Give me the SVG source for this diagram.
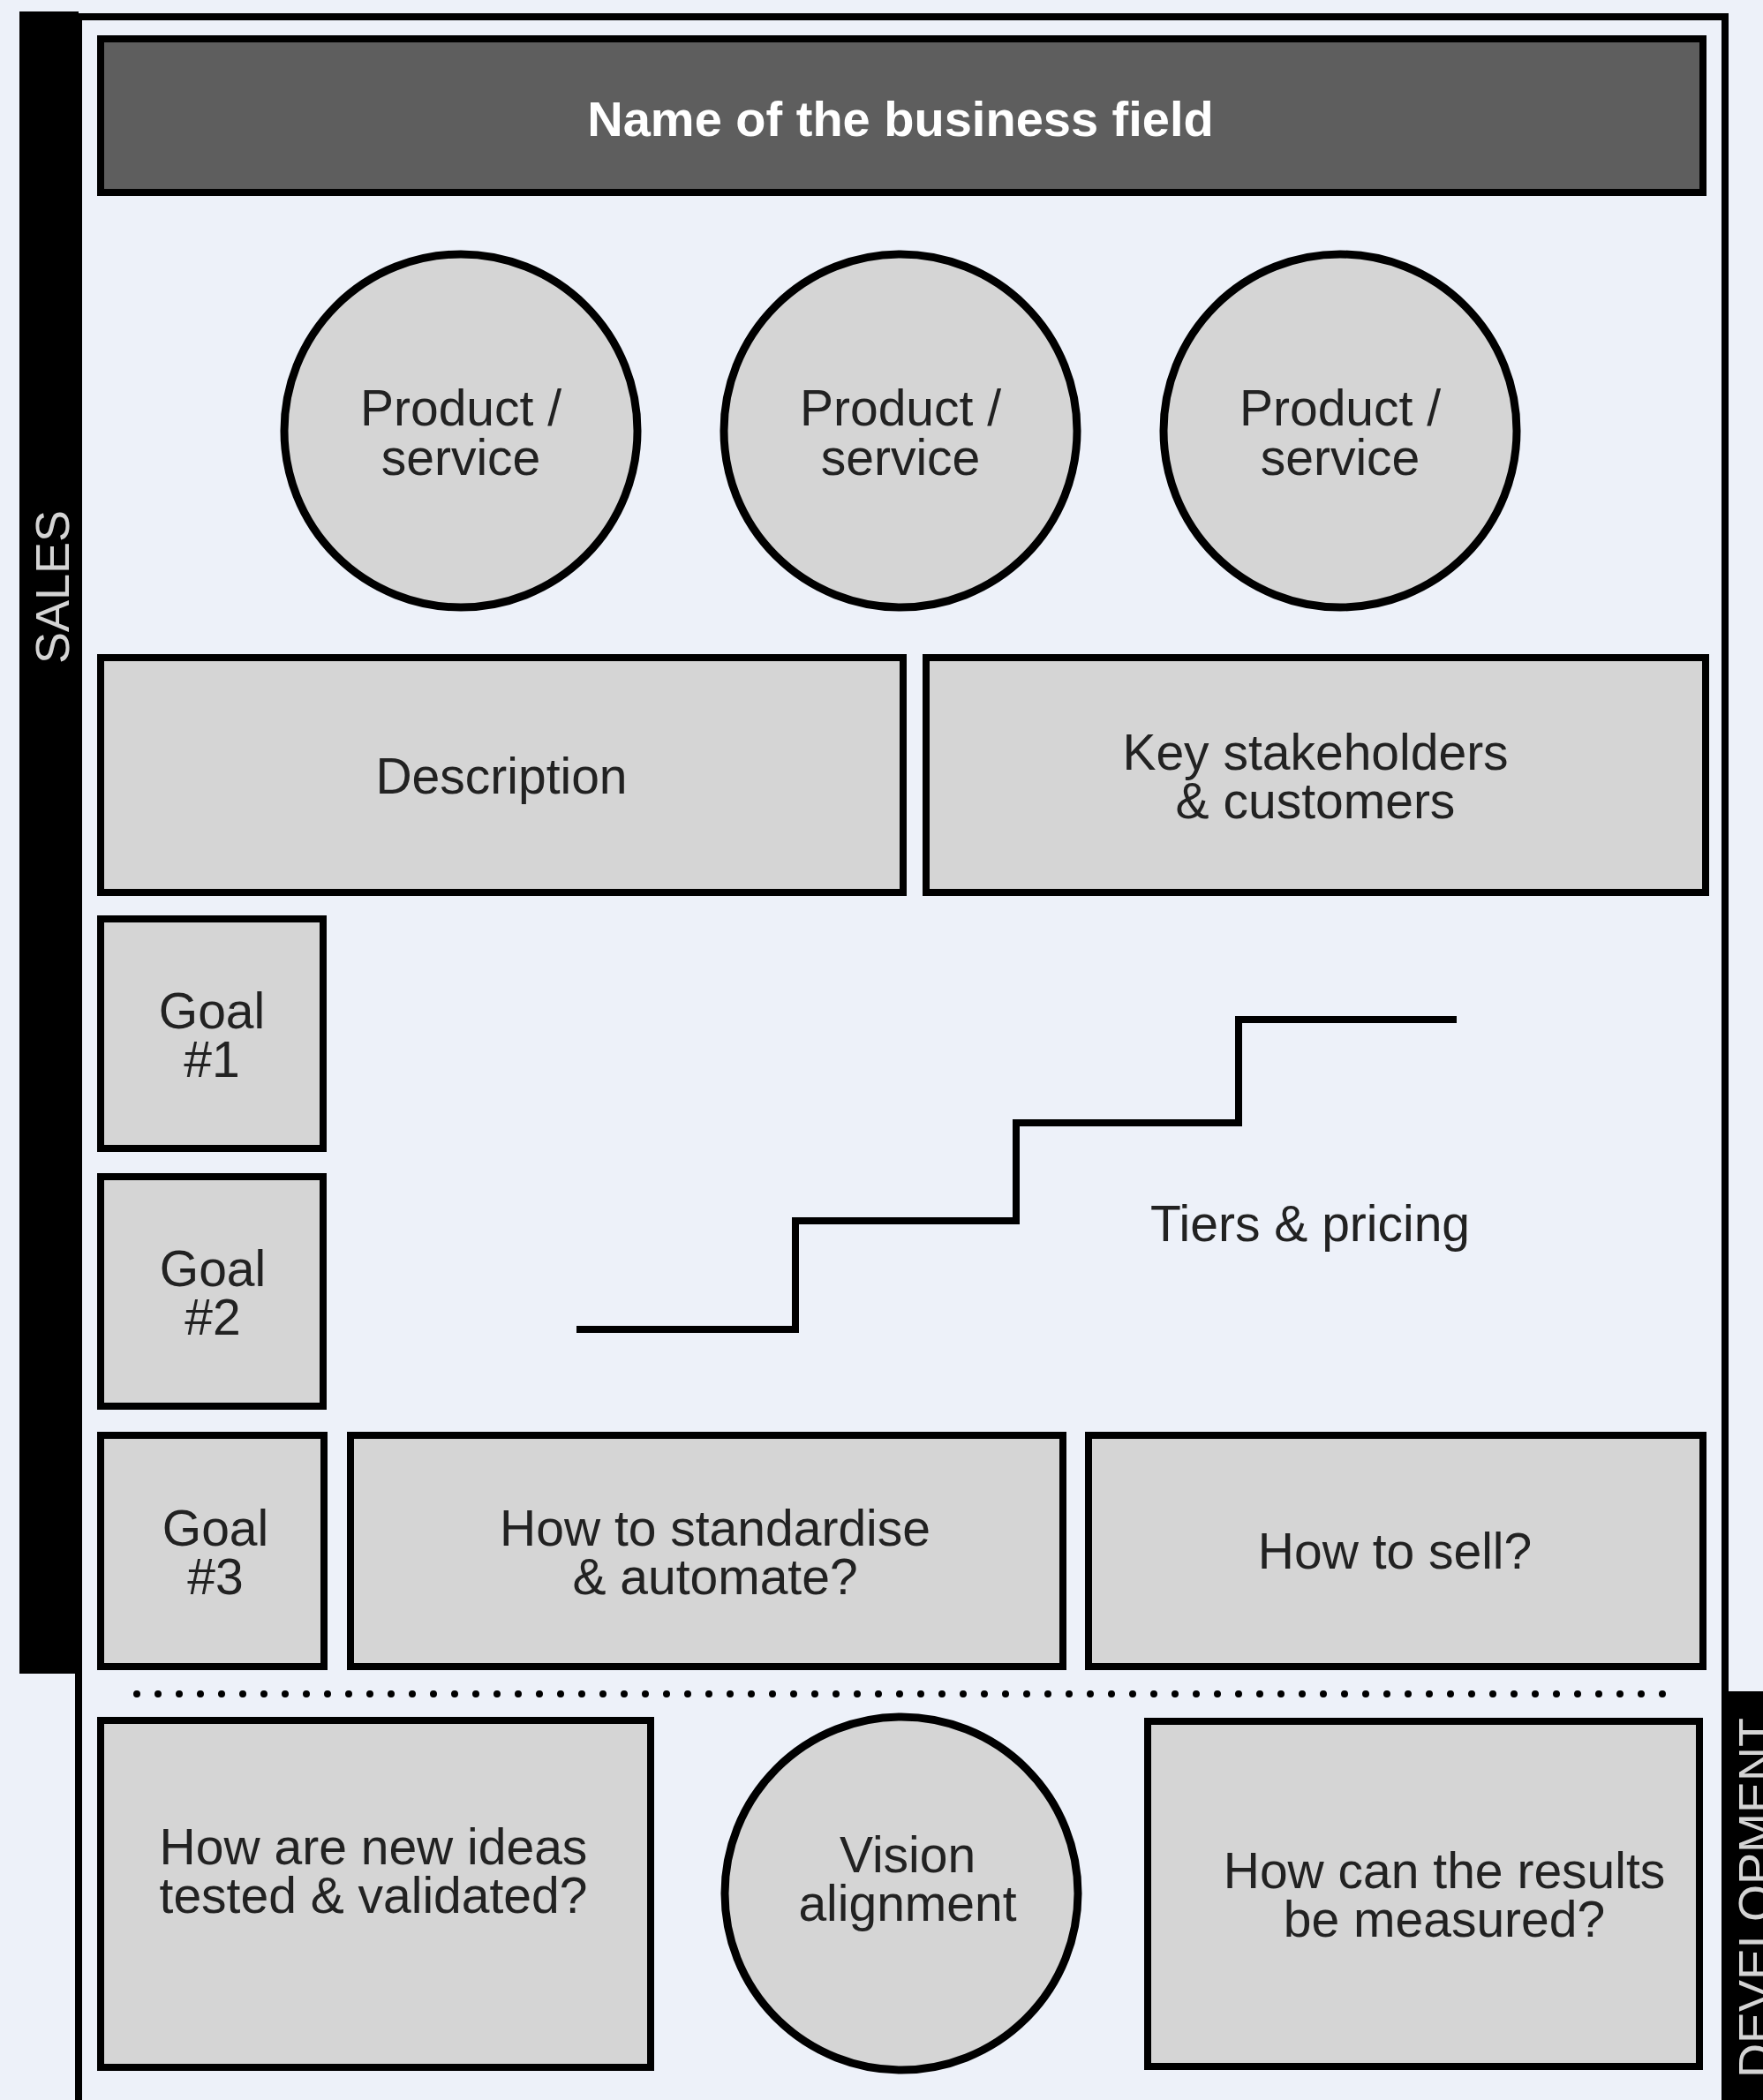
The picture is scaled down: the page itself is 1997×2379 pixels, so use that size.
<svg xmlns="http://www.w3.org/2000/svg" width="1997" height="2379" viewBox="0 0 1997 2379">
  <style>
    .box { fill: #d5d5d5; stroke: #000; stroke-width: 8; }
    .ring { fill: #d5d5d5; stroke: #000; stroke-width: 9; }
    .lbl { font-family: "Liberation Sans", Arial, sans-serif; font-size: 57px; fill: #222; text-anchor: middle; }
    .side { font-family: "Liberation Sans", Arial, sans-serif; font-size: 54px; fill: #d4d4d4; text-anchor: middle; }
    .title { font-family: "Liberation Sans", Arial, sans-serif; font-size: 56px; font-weight: bold; fill: #fff; text-anchor: middle; }
    .bar { fill: #000; }
  </style>

  <!-- page background -->
  <rect x="0" y="0" width="1997" height="2379" fill="#edf1f9"/>

  <!-- side bands -->
  <g id="sales-band">
    <rect class="bar" x="22" y="13" width="67" height="1883"/>
    <text class="side" transform="translate(78 665) rotate(-90)">SALES</text>
  </g>
  <g id="development-band">
    <rect class="bar" x="1954" y="1916" width="43" height="463"/>
    <text class="side" transform="translate(2007 2150) rotate(-90)">DEVELOPMENT</text>
  </g>

  <!-- outer frame -->
  <rect x="89" y="19" width="1865" height="2364" fill="none" stroke="#000" stroke-width="8"/>

  <!-- title bar -->
  <g id="title">
    <rect x="114" y="44" width="1815" height="174" fill="#5e5e5e" stroke="#000" stroke-width="8"/>
    <text class="title" x="1020" y="154">Name of the business field</text>
  </g>

  <!-- products -->
  <g id="product-1">
    <circle class="ring" cx="522" cy="488" r="200"/>
    <text class="lbl" x="522" y="482">Product /</text>
    <text class="lbl" x="522" y="538">service</text>
  </g>
  <g id="product-2">
    <circle class="ring" cx="1020" cy="488" r="200"/>
    <text class="lbl" x="1020" y="482">Product /</text>
    <text class="lbl" x="1020" y="538">service</text>
  </g>
  <g id="product-3">
    <circle class="ring" cx="1518" cy="488" r="200"/>
    <text class="lbl" x="1518" y="482">Product /</text>
    <text class="lbl" x="1518" y="538">service</text>
  </g>

  <g id="description">
    <rect class="box" x="114" y="745" width="909" height="266"/>
    <text class="lbl" x="568" y="899">Description</text>
  </g>
  <g id="stakeholders">
    <rect class="box" x="1049" y="745" width="883" height="266"/>
    <text class="lbl" x="1490" y="872">Key stakeholders</text>
    <text class="lbl" x="1490" y="927">&amp; customers</text>
  </g>

  <!-- goals -->
  <g id="goal-1">
    <rect class="box" x="114" y="1041" width="252" height="260"/>
    <text class="lbl" x="240" y="1165">Goal</text>
    <text class="lbl" x="240" y="1220">#1</text>
  </g>
  <g id="goal-2">
    <rect class="box" x="114" y="1333" width="252" height="260"/>
    <text class="lbl" x="241" y="1457">Goal</text>
    <text class="lbl" x="241" y="1512">#2</text>
  </g>
  <g id="goal-3">
    <rect class="box" x="114" y="1626" width="253" height="262"/>
    <text class="lbl" x="244" y="1751">Goal</text>
    <text class="lbl" x="244" y="1806">#3</text>
  </g>

  <!-- pricing steps -->
  <g id="tiers">
    <polyline points="653,1506 901,1506 901,1383 1151,1383 1151,1272 1403,1272 1403,1155 1650,1155" fill="none" stroke="#000" stroke-width="8" stroke-linejoin="miter"/>
    <text class="lbl" x="1484" y="1406">Tiers &amp; pricing</text>
  </g>

  <g id="standardise">
    <rect class="box" x="397" y="1626" width="807" height="262"/>
    <text class="lbl" x="810" y="1751">How to standardise</text>
    <text class="lbl" x="810" y="1806">&amp; automate?</text>
  </g>
  <g id="sell">
    <rect class="box" x="1233" y="1626" width="696" height="262"/>
    <text class="lbl" x="1580" y="1777">How to sell?</text>
  </g>

  <!-- dotted divider between the two sections -->
  <g id="divider">
    <line x1="155" y1="1919" x2="1886" y2="1919" stroke="#000" stroke-width="8" stroke-linecap="round" stroke-dasharray="0 24"/>
  </g>

  <g id="ideas">
    <rect class="box" x="114" y="1949" width="623" height="393"/>
    <text class="lbl" x="423" y="2112">How are new ideas</text>
    <text class="lbl" x="423" y="2167">tested &amp; validated?</text>
  </g>
  <g id="vision">
    <circle class="ring" cx="1021" cy="2145" r="200"/>
    <text class="lbl" x="1028" y="2121">Vision</text>
    <text class="lbl" x="1028" y="2176">alignment</text>
  </g>
  <g id="results">
    <rect class="box" x="1300" y="1950" width="625" height="391"/>
    <text class="lbl" x="1636" y="2139">How can the results</text>
    <text class="lbl" x="1636" y="2194">be measured?</text>
  </g>

  <!-- no connectors in this layout -->
  <g id="connectors"/>
</svg>
